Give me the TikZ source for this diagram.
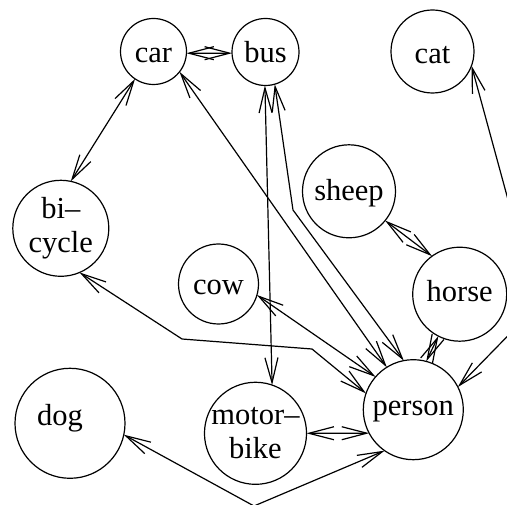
\documentclass[tikz,border=0pt]{standalone}
\usepackage{fontspec}
\setmainfont{Liberation Serif}
\usetikzlibrary{arrows.meta}
\begin{document}
\begin{tikzpicture}[x=1pt,y=-1pt,line width=1.2pt,
  animal/.style={circle, draw, inner sep=0pt, outer sep=0pt, align=center,
    font=\fontsize{30.5}{34}\selectfont},
  tline/.style={text height=#1, text depth=0pt},
  barb/.tip={Straight Barb[length=25pt,width=13pt]},
  link/.style={barb-barb}]
\useasboundingbox (0,0) rectangle (507,505);
\clip (0,0) rectangle (507,505);
% nodes
\node[animal, minimum size=66pt, tline=21.5pt] (car) at (153.5,51.5) {car};
\node[animal, minimum size=67pt, tline=20.5pt] (bus) at (265.5,52) {bus};
\node[animal, minimum size=83pt, tline=23.5pt] (cat) at (432.5,51.5) {cat};
\node[animal, minimum size=93pt, tline=19pt] (sheep) at (349,191.3) {sheep};
\node[animal, minimum size=96pt] (bicycle) at (60.8,228.3) {bi–\\cycle};
\node[animal, minimum size=80pt, tline=22pt] (cow) at (218.5,284) {cow};
\node[animal, minimum size=94pt, tline=15pt] (horse) at (459.7,294.2) {horse};
\node[animal, minimum size=100pt, tline=12pt] (person) at (413.3,409.7) {person};
\node[animal, minimum size=100pt] (motorbike) at (255.5,433.3) {motor–\\bike};
\node[animal, minimum size=110pt, tline=4pt] (dog) at (70,423.3) {\kern-20pt dog};
% bend points
\coordinate (busbend) at (293,210);
\coordinate (bibend1) at (182,339);
\coordinate (bibend2) at (312,349);
\coordinate (catbend) at (537,306);
\coordinate (dogbend) at (254,506);
% connectors
\draw[link] (car.-3) -- (bus.182);
\draw[link] (car.236) -- (bicycle.78);
\draw[link] (car.-38) -- (person.122);
\draw[link] (bus.-74) -- (busbend) -- (person.101);
\draw[link] (bus.-91) -- (motorbike.71);
\draw[link] (cow.-16) -- (person.139);
\draw[link] (bicycle.-67) -- (bibend1) -- (bibend2) -- (person.161);
\draw[link] (horse.243) -- (person.75);
\draw[link] (sheep.-39) -- (horse.126);
\draw[link] (cat.-20) -- (catbend) -- (person.27);
\draw[link] (motorbike.0) -- (person.208);
\draw[link] (dog.-12) -- (dogbend) -- (person.235);
\end{tikzpicture}
\end{document}
